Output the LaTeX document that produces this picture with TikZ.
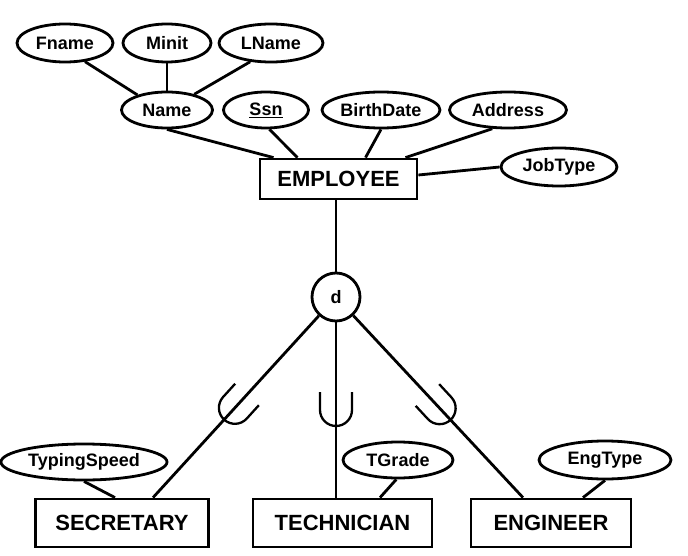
\documentclass[tikz,border=0pt]{standalone}
\usepackage{fontspec}
\setmainfont{Liberation Sans}
\usetikzlibrary{shapes.geometric,calc}
\tikzset{
  lw/.style={line width=2.8pt},
  attr/.style={ellipse, draw, lw, inner sep=0pt, font=\fontsize{18}{20}\selectfont\bfseries},
  ent/.style={rectangle, draw, lw, inner sep=0pt, font=\fontsize{22}{24}\selectfont\bfseries},
  conn/.style={lw},
  cup/.style={line width=2.3pt},
}
\begin{document}
\begin{tikzpicture}[x=1pt,y=-1pt]
\useasboundingbox (0,0) rectangle (688,556);
% attributes
\node[attr, minimum width=96pt, minimum height=38pt] (fname) at (65,43) {Fname};
\node[attr, minimum width=88pt, minimum height=38pt] (minit) at (167,43) {Minit};
\node[attr, minimum width=104pt, minimum height=38pt] (lname) at (271,43) {LName};
\node[attr, minimum width=91pt, minimum height=36pt] (name) at (167,110) {Name};
\node[attr, minimum width=85pt, minimum height=36pt] (ssn) at (266,110) {\underline{Ssn}};
\node[attr, minimum width=118pt, minimum height=36pt] (bd) at (381,110) {BirthDate};
\node[attr, minimum width=117pt, minimum height=36pt] (addr) at (508,110) {Address};
\node[attr, minimum width=116pt, minimum height=38pt] (job) at (559,167) {JobType};
% entities
\node[ent, minimum width=157pt, minimum height=40pt] (emp) at (338.5,179) {EMPLOYEE};
\node[circle, draw, lw, minimum size=48pt, inner sep=0pt, font=\fontsize{18}{20}\selectfont\bfseries] (d) at (336,297) {d};
\node[ent, minimum width=173pt, minimum height=48pt] (sec) at (122,523) {SECRETARY};
\node[ent, minimum width=179pt, minimum height=48pt] (tech) at (342.5,523) {TECHNICIAN};
\node[ent, minimum width=160pt, minimum height=48pt] (eng) at (551,523) {ENGINEER};
\node[attr, minimum width=166pt, minimum height=36pt] (ts) at (84,462) {TypingSpeed};
\node[attr, minimum width=110pt, minimum height=36pt] (tg) at (398,460) {TGrade};
\node[attr, minimum width=132pt, minimum height=38pt] (et) at (605,460) {EngType};
% attribute connectors
\draw[conn] (fname.-43) -- (name.153);
\draw[conn] (minit.south) -- (name.north);
\draw[conn] (lname.-138) -- (name.30);
\draw[conn] (name.south) -- ([xshift=-65pt]emp.north);
\draw[conn] (ssn.-80) -- ([xshift=-41pt]emp.north);
\draw[conn] (bd.south) -- ([xshift=27pt]emp.north);
\draw[conn] (addr.230) -- ([xshift=67pt]emp.north);
\draw[conn] (job.west) -- ([yshift=4pt]emp.east);
\draw[conn] (ts.south) -- ([xshift=-7pt]sec.north);
\draw[conn] (tg.-95) -- ([xshift=37.5pt]tech.north);
\draw[conn] (et.south) -- ([xshift=32pt]eng.north);
% specialization
\coordinate (empBot) at (d |- emp.south);
\coordinate (secTop) at ([xshift=31pt]sec.north);
\coordinate (techTop) at (d |- tech.north);
\coordinate (engTop) at ([xshift=-28pt]eng.north);
\draw[conn] (empBot) -- (d);
\draw[conn] (d) -- (secTop);
\draw[conn] (d) -- (techTop);
\draw[conn] (d) -- (engTop);
\coordinate (u1) at ($(d)!150pt!(secTop)$);
\coordinate (u2) at ($(d)!113pt!(techTop)$);
\coordinate (u3) at ($(d)!152pt!(engTop)$);
\begin{scope}[shift={(u1)}, rotate=-42.2]
\draw[cup] (-16pt,18pt) -- (-16pt,0pt) arc[start angle=180, end angle=360, radius=16pt] -- (16pt,18pt);
\end{scope}
\begin{scope}[shift={(u2)}]
\draw[cup] (-16pt,18pt) -- (-16pt,0pt) arc[start angle=180, end angle=360, radius=16pt] -- (16pt,18pt);
\end{scope}
\begin{scope}[shift={(u3)}, rotate=42.8]
\draw[cup] (-16pt,18pt) -- (-16pt,0pt) arc[start angle=180, end angle=360, radius=16pt] -- (16pt,18pt);
\end{scope}
\end{tikzpicture}
\end{document}
